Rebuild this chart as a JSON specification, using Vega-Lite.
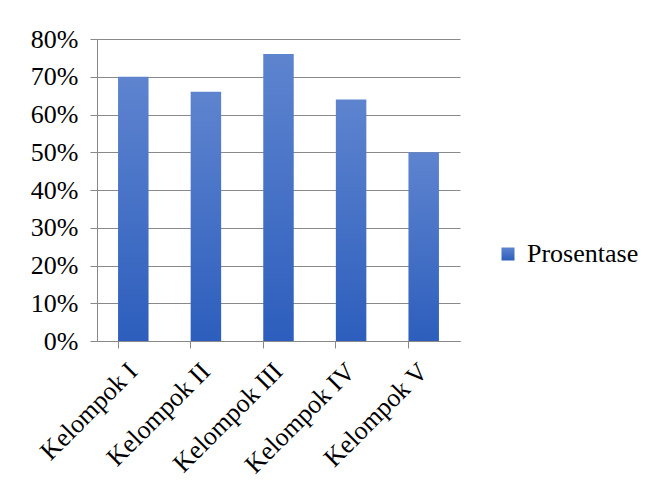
{
  "$schema": "https://vega.github.io/schema/vega-lite/v6.json",
  "autosize": "none",
  "width": 363,
  "height": 302,
  "padding": {"left": 97, "top": 39, "right": 197, "bottom": 151},
  "background": "white",
  "config": {
    "view": {"stroke": null},
    "font": "Liberation Serif, Times New Roman, serif"
  },
  "data": {
    "values": [
      {"kelompok": "Kelompok I", "nilai": 0.70, "seri": "Prosentase"},
      {"kelompok": "Kelompok II", "nilai": 0.66, "seri": "Prosentase"},
      {"kelompok": "Kelompok III", "nilai": 0.76, "seri": "Prosentase"},
      {"kelompok": "Kelompok IV", "nilai": 0.64, "seri": "Prosentase"},
      {"kelompok": "Kelompok V", "nilai": 0.50, "seri": "Prosentase"}
    ]
  },
  "mark": {
    "type": "bar",
    "color": {"gradient": "linear", "x1": 0, "y1": 0, "x2": 0, "y2": 1,
      "stops": [{"offset": 0, "color": "#5e84cf"}, {"offset": 1, "color": "#2d5ebd"}]}
  },
  "encoding": {
    "x": {
      "field": "kelompok",
      "type": "nominal",
      "sort": null,
      "title": null,
      "scale": {"paddingInner": 0.58, "paddingOuter": 0.29},
      "axis": {
        "labelAngle": -45,
        "labelAlign": "right",
        "labelBaseline": "middle",
        "labelFont": "Liberation Serif, Times New Roman, serif",
        "labelFontSize": 26,
        "labelColor": "#000000",
        "labelPadding": 19,
        "domainColor": "#888888",
        "tickColor": "#888888",
        "tickSize": 7,
        "bandPosition": 0
      }
    },
    "y": {
      "field": "nilai",
      "type": "quantitative",
      "title": null,
      "scale": {"domain": [0, 0.8]},
      "axis": {
        "values": [0, 0.1, 0.2, 0.3, 0.4, 0.5, 0.6, 0.7, 0.8],
        "format": ".0%",
        "labelFont": "Liberation Serif, Times New Roman, serif",
        "labelFontSize": 26,
        "labelColor": "#000000",
        "labelPadding": 12,
        "gridColor": "#898989",
        "domainColor": "#888888",
        "tickColor": "#888888",
        "tickSize": 7
      }
    },
    "opacity": {
      "field": "seri",
      "type": "nominal",
      "title": null,
      "scale": {"range": [1]},
      "legend": {
        "orient": "none",
        "legendX": 398,
        "legendY": 202,
        "symbolType": "square",
        "symbolSize": 169,
        "symbolStrokeWidth": 0,
        "symbolFillColor": "#4a75c9",
        "labelFont": "Liberation Serif, Times New Roman, serif",
        "labelFontSize": 26,
        "labelColor": "#000000",
        "labelOffset": 6,
        "encode": {"symbols": {"update": {"fill": {"value": "#4a75c9"}, "stroke": {"value": "transparent"}}}}
      }
    }
  }
}
